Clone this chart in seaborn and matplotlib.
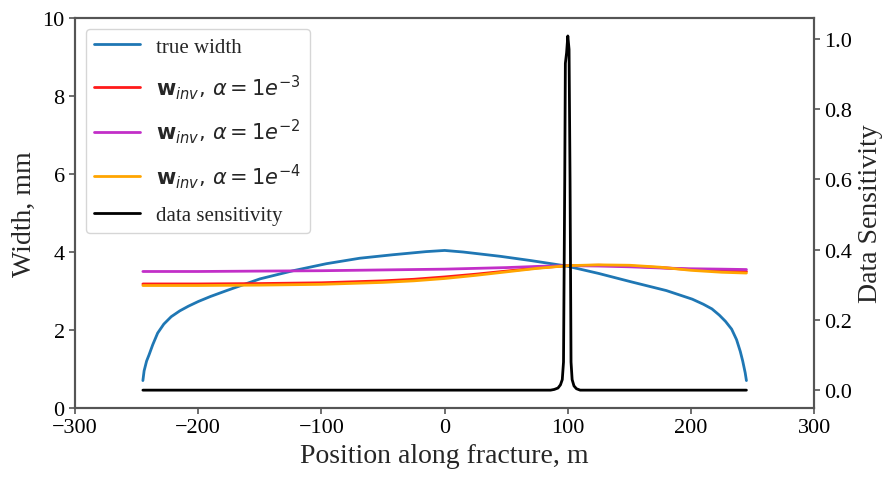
import matplotlib
matplotlib.use("Agg")
import matplotlib.pyplot as plt
import seaborn as sns
import pandas as pd

# True fracture width profile (m, mm)
true_x = [-245, -244, -242, -240, -237, -233, -228, -222, -215, -208, -200, -190,
          -177, -150, -123, -96, -69, -42, -15, 0, 15, 45, 70, 99, 125, 152, 180,
          201, 210, 217, 223, 228, 233, 237, 240, 242, 244, 245]
true_w = [0.70, 0.95, 1.20, 1.36, 1.62, 1.92, 2.15, 2.34, 2.49, 2.61, 2.73, 2.86,
          3.01, 3.31, 3.52, 3.70, 3.84, 3.93, 4.01, 4.04, 4.00, 3.89, 3.78, 3.64,
          3.45, 3.23, 3.01, 2.79, 2.66, 2.54, 2.38, 2.22, 2.02, 1.75, 1.45, 1.20,
          0.90, 0.70]

# Inverted widths for three regularisation strengths
inv_x = [-245, -200, -150, -100, -50, -25, 0, 25, 50, 75, 100, 125, 150, 175, 200, 225, 245]
w_a3 = [3.18, 3.18, 3.19, 3.21, 3.26, 3.30, 3.36, 3.43, 3.51, 3.59, 3.65, 3.66,
        3.64, 3.60, 3.55, 3.51, 3.50]
w_a2 = [3.50, 3.50, 3.51, 3.52, 3.54, 3.55, 3.56, 3.58, 3.60, 3.63, 3.65, 3.64,
        3.62, 3.59, 3.57, 3.56, 3.55]
w_a4 = [3.14, 3.14, 3.15, 3.17, 3.22, 3.26, 3.32, 3.40, 3.49, 3.58, 3.65, 3.67,
        3.66, 3.61, 3.53, 3.48, 3.46]

# Data sensitivity along the fracture
sens_x = [-245, 86, 89, 92, 94, 95.5, 96.5, 97.5, 98, 99, 100, 101, 101.8, 102.6,
          103.5, 105, 107, 110, 245]
sens_v = [0.0, 0.0, 0.002, 0.006, 0.015, 0.03, 0.08, 0.6, 0.93, 0.96, 1.008, 0.97,
          0.6, 0.08, 0.03, 0.012, 0.004, 0.0, 0.0]

labels = ["true width",
          r"$\mathbf{w}_{inv},\,\alpha = 1e^{-3}$",
          r"$\mathbf{w}_{inv},\,\alpha = 1e^{-2}$",
          r"$\mathbf{w}_{inv},\,\alpha = 1e^{-4}$",
          "data sensitivity"]
colors = ["#1f77b4", "#ff1a1a", "#c22fc8", "#ffa500", "black"]

sns.set_style("ticks")
plt.rcParams["font.family"] = ["Liberation Serif", "DejaVu Serif"]
plt.rcParams["mathtext.fontset"] = "dejavusans"
plt.rcParams["axes.edgecolor"] = "#555555"
plt.rcParams["xtick.color"] = "#555555"
plt.rcParams["ytick.color"] = "#555555"
plt.rcParams["xtick.labelcolor"] = "black"
plt.rcParams["ytick.labelcolor"] = "black"

fig, ax = plt.subplots(figsize=(8.84, 4.81), dpi=100)
fig.subplots_adjust(left=0.085, right=0.921, bottom=0.150, top=0.960)

df_true = pd.DataFrame({"x": true_x, "w": true_w})
sns.lineplot(data=df_true, x="x", y="w", ax=ax, color=colors[0], lw=2,
             sort=False, estimator=None, label=labels[0], legend=False)
for vals, lab, col in [(w_a3, labels[1], colors[1]),
                       (w_a2, labels[2], colors[2]),
                       (w_a4, labels[3], colors[3])]:
    d = pd.DataFrame({"x": inv_x, "w": vals})
    sns.lineplot(data=d, x="x", y="w", ax=ax, color=col, lw=2,
                 sort=False, estimator=None, label=lab, legend=False)

ax.set_xlim(-300, 300)
ax.set_ylim(0, 10)
ax.set_xticks([-300, -200, -100, 0, 100, 200, 300])
ax.set_yticks([0, 2, 4, 6, 8, 10])
ax.set_xlabel("Position along fracture, m", fontsize=20)
ax.set_ylabel("Width, mm", fontsize=20)
ax.tick_params(labelsize=16, length=4, width=1.2)

ax2 = ax.twinx()
df_s = pd.DataFrame({"x": sens_x, "s": sens_v})
sns.lineplot(data=df_s, x="x", y="s", ax=ax2, color=colors[4], lw=2,
             sort=False, estimator=None, label=labels[4], legend=False)
ax2.set_yticks([0.0, 0.2, 0.4, 0.6, 0.8, 1.0])
ax2.set_ylabel("Data Sensitivity", fontsize=20)
ax2.tick_params(labelsize=16, length=4, width=1.2)
ax2.set_xlim(-300, 300)

for a in (ax, ax2):
    for s in a.spines.values():
        s.set_linewidth(1.5)
        s.set_visible(True)

h1, l1 = ax.get_legend_handles_labels()
h2, l2 = ax2.get_legend_handles_labels()
ax2.legend(h1 + h2, l1 + l2, loc="upper left", fontsize=15, frameon=True,
           handlelength=2.2, labelspacing=0.75)

fig.savefig("out.png", dpi=100)
